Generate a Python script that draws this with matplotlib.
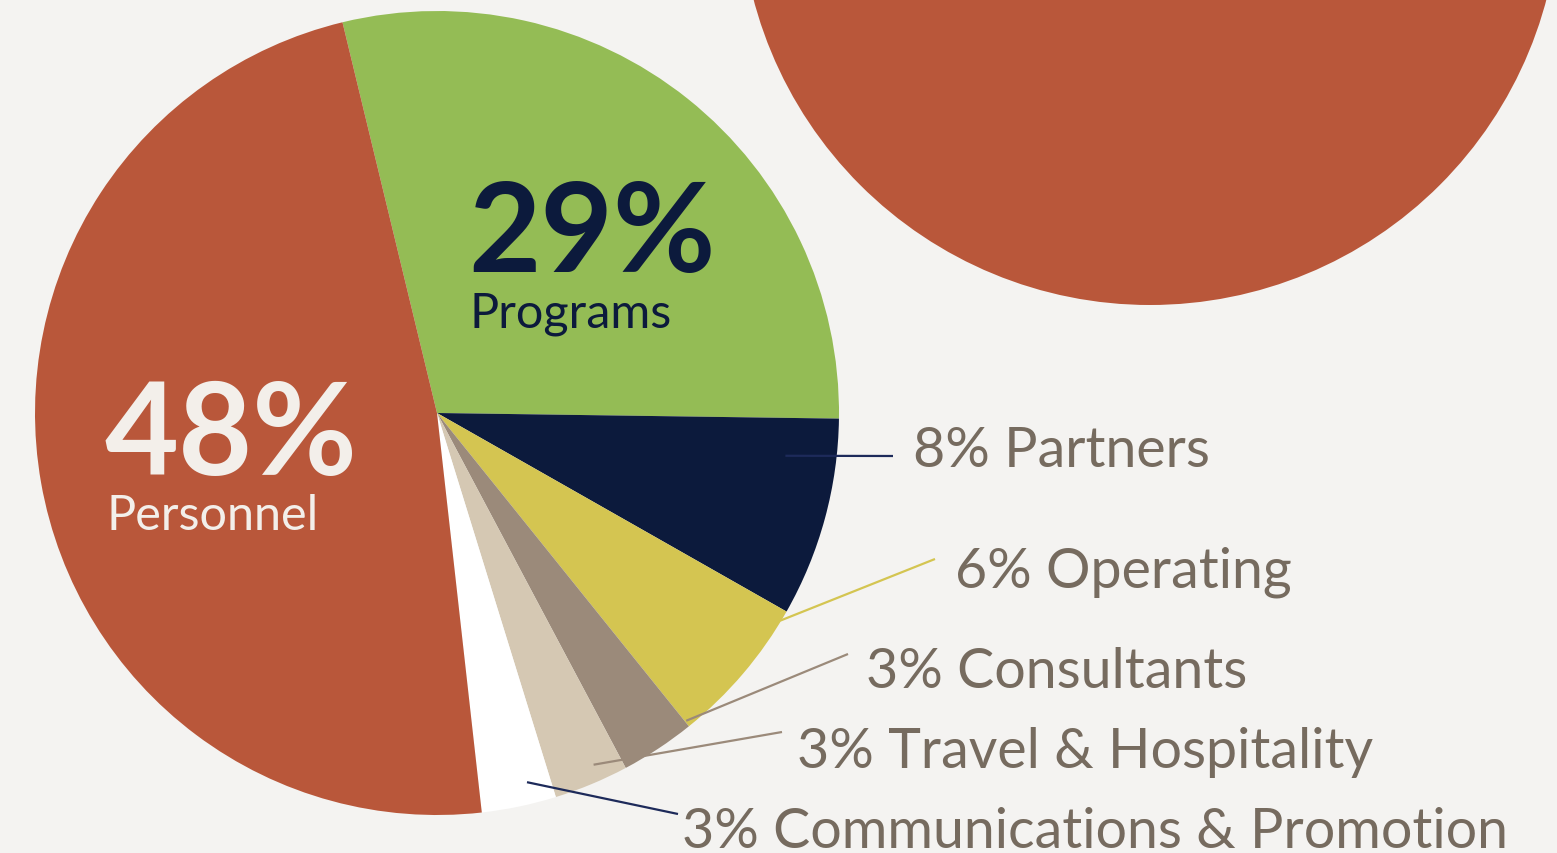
import numpy as np
import matplotlib.pyplot as plt
from matplotlib.patches import Circle

# data
categories = ["Programs", "Partners", "Operating", "Consultants",
              "Travel & Hospitality", "Communications & Promotion", "Personnel"]
shares = [29, 8, 6, 3, 3, 3, 48]
colors = ["#94bc55", "#0c1a3c", "#d4c551", "#9b8a7a", "#d5c8b3", "#ffffff", "#b9573a"]

# small labels on the right (index into categories)
side_idx = [1, 2, 3, 4, 5]
side_line_colors = ["#1d2a5a", "#d4c551", "#9b8a7a", "#9b8a7a", "#1d2a5a"]

W, H = 1557, 854
bg = "#f4f3f1"
txt = "#766b5f"
font = ["Lato", "DejaVu Sans"]

fig = plt.figure(figsize=(W / 100, H / 100), dpi=100, facecolor=bg)
ax = fig.add_axes([0, 0, 1, 1])
ax.set_facecolor(bg)

# pixel coords -> data coords (y up)
def P(x, y):
    return x, H - y

cx, cy = P(437, 414)
R = 402

# decorative circle top right
ax.add_patch(Circle(P(1150, -104), 410, color="#b9573a", lw=0, zorder=1))

wedges, _ = ax.pie(shares, colors=colors, startangle=103.6, counterclock=False,
                   center=(cx, cy), radius=R, frame=True,
                   wedgeprops=dict(linewidth=0, zorder=2))

ax.set_xlim(0, W)
ax.set_ylim(0, H)
ax.set_aspect("equal")
ax.axis("off")

# big labels
ax.text(*P(468, 272), f"{shares[0]}%", fontsize=90, fontweight="bold",
        color="#0c1a3c", family=font, va="baseline", zorder=5)
ax.text(*P(469, 328), categories[0], fontsize=35, fontweight="normal",
        color="#0c1a3c", family=font, va="baseline", zorder=5)
ax.text(*P(104, 475), f"{shares[6]}%", fontsize=92, fontweight="bold",
        color="#f3efea", family=font, va="baseline", zorder=5)
ax.text(*P(106, 530), categories[6], fontsize=35, fontweight="normal",
        color="#f3efea", family=font, va="baseline", zorder=5)

# leader lines: start inside wedge (angle, radius), end near label
starts = [(-7.0, 351), (-31.2, 401), (-51.0, 396), (-66.0, 385), (-76.3, 380)]
ends = [(893, 457), (935, 560), (848, 655), (782, 733), (678, 815)]
text_pos = [(913, 467), (955, 587), (866, 688), (797, 768), (682, 848)]

for k, i in enumerate(side_idx):
    a, r = starts[k]
    x0 = cx + r * np.cos(np.radians(a))
    y0 = cy + r * np.sin(np.radians(a))
    x1, y1 = P(*ends[k])
    ax.plot([x0, x1], [y0, y1], color=side_line_colors[k], lw=1.6, zorder=4,
            solid_capstyle="butt")
    ax.text(*P(*text_pos[k]), f"{shares[i]}% {categories[i]}", fontsize=40,
            fontweight="normal", color=txt, family=font, va="baseline", zorder=5)

fig.savefig("out.png", dpi=100, facecolor=bg)
